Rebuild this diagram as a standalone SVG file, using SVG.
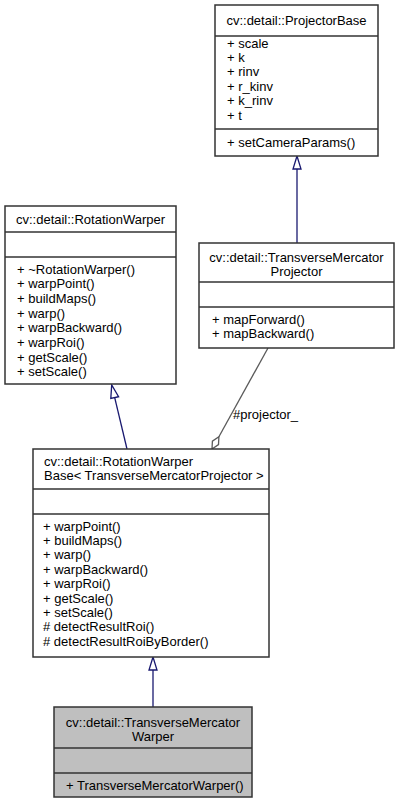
<svg xmlns="http://www.w3.org/2000/svg" width="400" height="804" viewBox="0 0 400 804">
<style>
  .box { fill: #ffffff; stroke: #333333; stroke-width: 1.5; }
  .cur { fill: #bfbfbf; stroke: #333333; stroke-width: 1.5; }
  .sep { stroke: #333333; stroke-width: 1.5; }
  text { font-family: "Liberation Sans", Arial, Helvetica, sans-serif; font-size: 13px; fill: #000000; }
  .c { text-anchor: middle; }
  .inh { fill: none; stroke: #191970; stroke-width: 1.3; }
  .head { fill: #ffffff; stroke: #191970; stroke-width: 1.3; }
  .agg { fill: none; stroke: #5a5a5a; stroke-width: 1.3; }
  .dia { fill: #ffffff; stroke: #5a5a5a; stroke-width: 1.3; }
</style>
<rect width="400" height="804" fill="#ffffff"/>

<g id="connectors">
  <!-- TransverseMercatorProjector -> ProjectorBase -->
  <line class="inh" x1="297" y1="243" x2="297" y2="169"/>
  <polygon class="head" points="297,156 293,169 301,169"/>
  <!-- RotationWarperBase -> RotationWarper -->
  <line class="inh" x1="127" y1="449" x2="114.7" y2="397.6"/>
  <polygon class="head" points="111.7,385 110.8,398.5 118.6,396.7"/>
  <!-- TransverseMercatorWarper -> RotationWarperBase -->
  <line class="inh" x1="153" y1="707" x2="153" y2="670"/>
  <polygon class="head" points="153,657 149,670 157,670"/>
  <!-- aggregation projector_ -->
  <line class="agg" x1="268" y1="348" x2="218.9" y2="436.8"/>
  <polygon class="dia" points="212,449 212.4,441.2 218.9,436.8 218.5,444.6"/>
  <text x="233" y="419">#projector_</text>
</g>

<g id="ProjectorBase">
  <rect class="box" x="215" y="5" width="163" height="151"/>
  <line class="sep" x1="215" y1="36" x2="378" y2="36"/>
  <line class="sep" x1="215" y1="129" x2="378" y2="129"/>
  <text class="c" x="296.5" y="25">cv::detail::ProjectorBase</text>
  <text x="227" y="47.5">+ scale</text>
  <text x="227" y="61.9">+ k</text>
  <text x="227" y="76.3">+ rinv</text>
  <text x="227" y="90.7">+ r_kinv</text>
  <text x="227" y="105.1">+ k_rinv</text>
  <text x="227" y="119.5">+ t</text>
  <text x="227" y="147">+ setCameraParams()</text>
</g>

<g id="RotationWarper">
  <rect class="box" x="5" y="206" width="171" height="178"/>
  <line class="sep" x1="5" y1="232" x2="176" y2="232"/>
  <line class="sep" x1="5" y1="257" x2="176" y2="257"/>
  <text class="c" x="90.5" y="223.5">cv::detail::RotationWarper</text>
  <text x="17" y="273.5">+ ~RotationWarper()</text>
  <text x="17" y="288.2">+ warpPoint()</text>
  <text x="17" y="302.9">+ buildMaps()</text>
  <text x="17" y="317.6">+ warp()</text>
  <text x="17" y="332.3">+ warpBackward()</text>
  <text x="17" y="347">+ warpRoi()</text>
  <text x="17" y="361.7">+ getScale()</text>
  <text x="17" y="376.4">+ setScale()</text>
</g>

<g id="TransverseMercatorProjector">
  <rect class="box" x="199" y="243" width="195" height="105"/>
  <line class="sep" x1="199" y1="282" x2="394" y2="282"/>
  <line class="sep" x1="199" y1="307" x2="394" y2="307"/>
  <text class="c" x="296.5" y="262">cv::detail::TransverseMercator</text>
  <text class="c" x="296.5" y="276">Projector</text>
  <text x="212" y="323.5">+ mapForward()</text>
  <text x="212" y="338">+ mapBackward()</text>
</g>

<g id="RotationWarperBase">
  <rect class="box" x="33" y="449" width="236" height="208"/>
  <line class="sep" x1="33" y1="489" x2="269" y2="489"/>
  <line class="sep" x1="33" y1="514" x2="269" y2="514"/>
  <text x="44" y="465.5">cv::detail::RotationWarper</text>
  <text x="44" y="479.5">Base&lt; TransverseMercatorProjector &gt;</text>
  <text x="43" y="530.5">+ warpPoint()</text>
  <text x="43" y="544.9">+ buildMaps()</text>
  <text x="43" y="559.3">+ warp()</text>
  <text x="43" y="573.7">+ warpBackward()</text>
  <text x="43" y="588.1">+ warpRoi()</text>
  <text x="43" y="602.5">+ getScale()</text>
  <text x="43" y="616.9">+ setScale()</text>
  <text x="43" y="631.3"># detectResultRoi()</text>
  <text x="43" y="645.7"># detectResultRoiByBorder()</text>
</g>

<g id="TransverseMercatorWarper">
  <rect class="cur" x="54" y="707" width="198" height="90"/>
  <line class="sep" x1="54" y1="748" x2="252" y2="748"/>
  <line class="sep" x1="54" y1="773" x2="252" y2="773"/>
  <text class="c" x="153" y="726.5">cv::detail::TransverseMercator</text>
  <text class="c" x="153" y="740.5">Warper</text>
  <text x="66" y="789.5">+ TransverseMercatorWarper()</text>
</g>
</svg>
